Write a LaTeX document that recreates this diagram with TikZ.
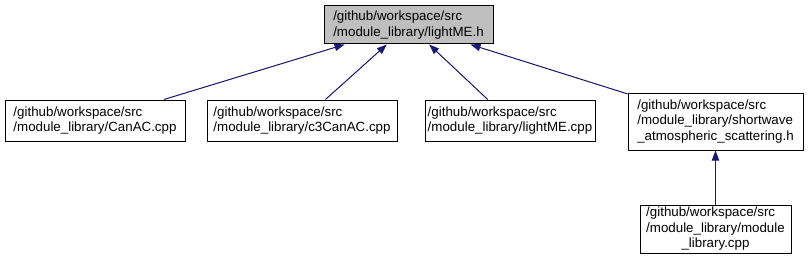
\documentclass[tikz,border=0pt]{standalone}
\usepackage{fontspec}
\setmainfont{Liberation Sans}
\usetikzlibrary{arrows.meta}

\begin{document}
\begin{tikzpicture}[x=0.75pt, y=-0.75pt, >={Triangle[length=7.5pt, width=5.5pt]},
    file/.style={draw, line width=0.75pt, inner sep=0pt, align=left,
      font=\fontsize{10pt}{11.5pt}\selectfont},
    edge/.style={->, draw={rgb,255:red,25;green,25;blue,112}, fill={rgb,255:red,25;green,25;blue,112}, line width=0.75pt}]
  \useasboundingbox (0,0) rectangle (809,260);
  \node[file, fill={rgb,255:red,191;green,191;blue,191}, minimum width=126.75pt, minimum height=28.5pt]
    (lightmeh) at (408.5,25) {/github/workspace/src\\/module\_library/lightME.h};
  \node[file, minimum width=135pt, minimum height=30.75pt]
    (canac) at (95,120.5) {/github/workspace/src\\/module\_library/CanAC.cpp};
  \node[file, minimum width=142.5pt, minimum height=30.75pt]
    (c3canac) at (302,120.5) {/github/workspace/src\\/module\_library/c3CanAC.cpp};
  \node[file, minimum width=127.5pt, minimum height=30.75pt]
    (lightmecpp) at (510,120.5) {/github/workspace/src\\/module\_library/lightME.cpp};
  \node[file, minimum width=131.25pt, minimum height=42.75pt]
    (shortwave) at (715.5,121.5) {/github/workspace/src\\/module\_library/shortwave\\\_atmospheric\_scattering.h};
  \node[file, minimum width=113.25pt, minimum height=36pt]
    (modlib) at (715.5,229) {\begin{tabular}{@{}l@{}}/github/workspace/src\\/module\_library/module\\\multicolumn{1}{@{}c@{}}{\_library.cpp}\end{tabular}};
  % includes
  \draw[edge] (canac) -- (lightmeh);
  \draw[edge] (c3canac) -- (lightmeh);
  \draw[edge] (lightmecpp) -- (lightmeh);
  \draw[edge] (shortwave) -- (lightmeh);
  \draw[edge] (modlib) -- (shortwave);
\end{tikzpicture}
\end{document}
